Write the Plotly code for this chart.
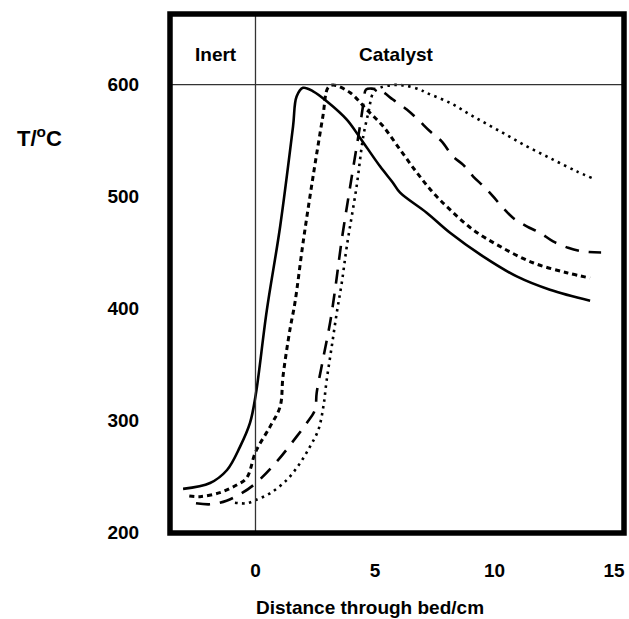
import plotly.graph_objects as go

# ---- data ----
solid_x = [-3.03, -1.90, -1.19, -0.65, -0.23, 0.01, 0.47, 1.03, 1.57, 1.72, 1.99, 2.41, 2.98, 3.82, 4.37, 5.21, 5.75, 6.05, 7.16, 8.14, 9.52, 10.93, 12.32, 14.00]
solid_y = [239.0, 244.3, 255.9, 276.5, 297.9, 323.0, 398.0, 473.1, 562.5, 589.3, 597.1, 594.0, 585.1, 568.7, 552.6, 527.0, 512.4, 503.5, 485.6, 467.7, 446.6, 428.7, 416.8, 407.0]

sdash_x = [-2.77, -2.32, -1.49, -0.79, -0.37, 0.01, 0.61, 1.03, 1.15, 1.44, 1.65, 1.99, 2.41, 2.82, 3.03, 3.24, 3.95, 4.65, 5.34, 6.05, 6.75, 7.43, 8.14, 9.10, 10.23, 11.61, 13.02, 14.00]
sdash_y = [232.7, 232.1, 235.7, 242.5, 248.8, 272.3, 294.6, 312.5, 339.3, 381.1, 405.2, 458.8, 518.1, 571.7, 597.1, 599.6, 592.9, 577.7, 562.7, 541.9, 521.4, 503.5, 488.3, 470.4, 455.5, 440.9, 432.0, 427.3]

ldash_x = [-2.49, -1.87, -1.21, -0.58, 0.01, 0.89, 1.72, 2.14, 2.49, 2.56, 2.82, 3.12, 3.33, 3.61, 4.03, 4.37, 4.54, 4.62, 4.87, 5.28, 5.75, 6.33, 6.80, 7.30, 7.79, 8.26, 8.68, 9.10, 9.60, 9.94, 10.30, 10.77, 11.35, 11.90, 12.45, 13.08, 13.70, 14.46]
ldash_y = [226.2, 225.3, 228.5, 235.1, 244.1, 263.4, 285.7, 297.7, 309.6, 324.8, 354.2, 387.3, 416.8, 461.5, 518.1, 562.7, 586.6, 595.5, 596.4, 594.0, 586.6, 577.7, 568.7, 558.3, 549.3, 535.9, 528.5, 518.1, 508.0, 500.2, 491.2, 481.1, 473.4, 467.7, 460.0, 454.3, 451.0, 450.1]

dot_x = [-0.86, -0.37, 0.01, 0.61, 1.31, 1.86, 2.28, 2.63, 2.84, 2.98, 3.19, 3.40, 3.61, 3.82, 4.23, 4.51, 4.72, 4.93, 5.21, 5.75, 6.26, 6.88, 7.16, 8.14, 9.10, 10.23, 11.35, 12.45, 13.44, 14.07]
dot_y = [226.7, 226.2, 229.1, 235.1, 247.0, 261.9, 276.8, 291.7, 312.5, 336.4, 366.1, 396.2, 423.1, 455.5, 509.1, 553.8, 574.7, 592.6, 597.1, 599.6, 599.1, 595.5, 592.6, 583.6, 571.7, 558.3, 544.9, 533.0, 522.5, 516.6]

x_ticks = [0, 5, 10, 15]
y_ticks = [200, 300, 400, 500, 600]
region_labels = ["Inert", "Catalyst"]
region_label_x = [-1.65, 5.92]

FONT = "Liberation Sans, Arial, Helvetica, sans-serif"

fig = go.Figure()
styles = [
    (solid_x, solid_y, "solid", 2.6),
    (sdash_x, sdash_y, "5px,4px", 3.0),
    (ldash_x, ldash_y, "14px,10px", 2.6),
    (dot_x, dot_y, "2.5px,4.5px", 2.6),
]
for xs, ys, dash, w in styles:
    fig.add_trace(go.Scatter(x=xs, y=ys, mode="lines",
                             line=dict(color="black", width=w, dash=dash,
                                       shape="spline", smoothing=1.0),
                             showlegend=False, hoverinfo="skip"))

# reference lines
fig.add_shape(type="line", xref="paper", yref="y", x0=0, x1=1, y0=600, y1=600,
              line=dict(color="#333", width=1.3))
fig.add_shape(type="line", xref="x", yref="paper", x0=0, x1=0, y0=0, y1=1,
              line=dict(color="#333", width=1.3))
# frame
fig.add_shape(type="rect", xref="paper", yref="paper", x0=0, x1=1, y0=0, y1=1,
              line=dict(color="black", width=5.5))

for lab, lx in zip(region_labels, region_label_x):
    fig.add_annotation(x=lx, y=626.8, xref="x", yref="y", text=lab, showarrow=False,
                       xanchor="center", yanchor="middle",
                       font=dict(family=FONT, size=19, color="black", weight="bold"))

fig.add_annotation(x=-0.2885, y=0.763, xref="paper", yref="paper",
                   text="T/<sup>o</sup>C", showarrow=False,
                   xanchor="center", yanchor="middle",
                   font=dict(family=FONT, size=22, color="black", weight="bold"))
fig.add_annotation(x=0.4405, y=-0.1426, xref="paper", yref="paper",
                   text="Distance through bed/cm", showarrow=False,
                   xanchor="center", yanchor="middle",
                   font=dict(family=FONT, size=19, color="black", weight="bold"))

fig.update_xaxes(range=[-3.577, 15.418], tickvals=x_ticks, ticktext=[str(v) for v in x_ticks],
                 showgrid=False, zeroline=False, showline=False,
                 ticks="outside", ticklen=20, tickcolor="rgba(0,0,0,0)",
                 tickfont=dict(family=FONT, size=19, color="black", weight="bold"))
fig.update_yaxes(range=[199.64, 663.0], tickvals=y_ticks, ticktext=[str(v) for v in y_ticks],
                 showgrid=False, zeroline=False, showline=False,
                 ticks="outside", ticklen=26, tickcolor="rgba(0,0,0,0)",
                 tickfont=dict(family=FONT, size=19, color="black", weight="bold"))

fig.update_layout(width=629, height=619,
                  margin=dict(l=170, r=5, t=14, b=86, autoexpand=False),
                  plot_bgcolor="white", paper_bgcolor="white")

fig.write_html("out.html", config={"displayModeBar": False},
               post_script="document.body.style.margin='0';document.body.style.overflow='hidden';")
